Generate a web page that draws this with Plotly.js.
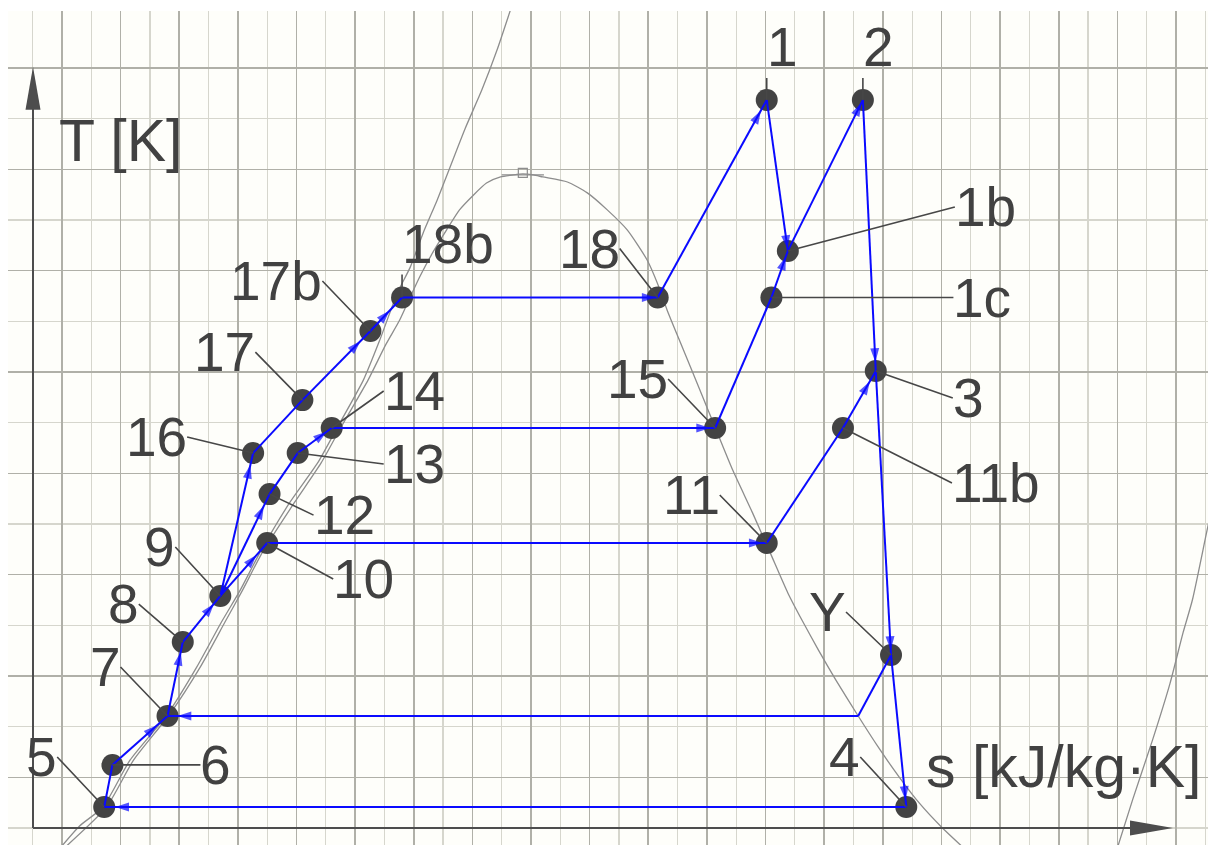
<!DOCTYPE html>
<html>
<head>
<meta charset="utf-8">
<script src="https://cdn.plot.ly/plotly-3.0.1.min.js"></script>
<style>
  html, body { margin: 0; padding: 0; background: #ffffff; }
  #chart { width: 1208px; height: 845px; }
</style>
</head>
<body>
<div id="chart"></div>
<script>
// ---- Cycle state points: entropy s and temperature T ----
const stateLabels = ['1', '2', '1b', '1c', '3', '11b', 'Y', '4', '18', '18b', '17b', '17',
                     '16', '15', '14', '13', '12', '11', '10', '9', '8', '7', '6', '5'];
const stateS = [7.01, 7.83, 7.19, 7.05, 7.94, 7.66, 8.07, 8.20, 6.08, 3.90, 3.63, 3.05,
                2.63, 6.57, 3.30, 3.01, 2.77, 7.01, 2.75, 2.35, 2.03, 1.90, 1.43, 1.36];
const stateT = [387.4, 387.4, 327.8, 309.4, 280.4, 257.9, 168.3, 108.3, 309.4, 309.4, 296.2, 268.9,
                248.0, 257.9, 257.9, 248.0, 231.8, 212.5, 212.5, 191.6, 173.4, 144.2, 124.9, 108.3];

// Unlabelled junction where the line leaving Y turns towards 7
const junctionName = 'J';
const junctionS = 7.79;
const junctionT = 144.2;

// ---- Process lines (start -> end) and whether the direction is marked ----
const segFrom  = ['5', '6', '7', '8', '9', '9', '9', '10', '11', '11b', '12', '13', '14', '15',
                  '1c', '16', '17', '17b', '18b', '18', '1', '1b', '2', '3', 'Y', '4', 'Y', 'J'];
const segTo    = ['6', '7', '8', '9', '10', '12', '16', '11', '11b', '3', '13', '14', '15', '1c',
                  '1b', '17', '17b', '18b', '18', '1', '1b', '2', '3', 'Y', '4', '5', 'J', '7'];
const segArrow = [false, true, true, true, true, true, true, true, false, true, false, true, true, false,
                  true, false, true, true, true, true, true, true, true, true, true, true, false, true];

// ---- Saturation dome (liquid branch, critical point, vapour branch) ----
const domeS = [1.02, 1.38, 1.61, 1.92, 2.18, 2.39, 2.54, 2.71, 2.98, 3.21, 3.38, 3.61, 3.76, 3.88,
               3.97, 4.05, 4.16, 4.28, 4.39, 4.51, 4.62, 4.74, 4.85, 4.93, 5.02, 5.10, 5.31, 5.48,
               5.65, 5.82, 5.99, 6.10, 6.16, 6.30, 6.44, 6.59, 6.72, 6.89, 7.04, 7.19, 7.31, 7.45,
               7.60, 7.79, 7.96, 8.14, 8.31, 8.50, 8.69];
const domeT = [92.1, 108.3, 126.8, 145.0, 163.6, 181.3, 193.9, 208.9, 228.3, 244.1, 258.3, 276.8,
               290.7, 300.5, 309.6, 317.5, 327.0, 336.1, 344.0, 349.9, 354.6, 357.0, 357.8, 358.2,
               357.8, 357.0, 355.0, 350.7, 344.0, 336.1, 324.2, 312.4, 304.5, 288.7, 272.9, 255.9,
               241.3, 224.3, 208.6, 192.8, 182.1, 170.3, 158.4, 144.2, 132.0, 120.1, 109.9, 100.4, 92.1];

// Steep line through the liquid side
const isoAS = [0.97, 1.15, 1.35, 1.58, 1.90, 2.15, 2.36, 2.52, 2.69, 2.94, 3.18, 3.35, 3.57, 3.71,
               3.86, 3.97, 4.08, 4.20, 4.31, 4.44, 4.58, 4.71, 4.83];
const isoAT = [91.3, 100.8, 108.3, 126.8, 145.0, 163.6, 181.3, 193.9, 208.9, 228.3, 244.1, 258.3,
               276.8, 292.6, 311.2, 321.4, 334.9, 347.9, 360.9, 376.3, 391.3, 407.1, 423.7];

// Line at the far right
const isoCS = [10.00, 10.13, 10.30, 10.45, 10.56, 10.64, 10.76, 10.82];
const isoCT = [92.1, 111.1, 134.7, 157.2, 177.0, 190.0, 216.4, 229.5];

// Critical point
const critS = [4.93];
const critT = [358.6];

// Axis origin and arrow tips
const axisOriginS = 0.7527;
const axisOriginT = 100;
const axisEndS = 10.475;
const axisEndT = 400.5;

// ---- Presentation ----
const pxPerS = 117.26;     // pixels per unit of s
const pxPerT = 2.5333;     // pixels per kelvin
const BLUE = '#0a0aff';
const DARK = '#434343';
const CURVE = '#8d8d8d';
const INK = '#414141';
const labelFont = { family: 'Liberation Sans, Arial, sans-serif', size: 55, color: INK };
const axisFont = { family: 'Liberation Sans, Arial, sans-serif', size: 59, color: INK };

// label offsets (pixels from the point to the end of its leader) and which side the text sits on
const labelPlacement = {
  '1':   { ax: 0,   ay: -53, side: 'left' },
  '2':   { ax: 0,   ay: -53, side: 'left' },
  '1b':  { ax: 167, ay: -44, side: 'left' },
  '1c':  { ax: 182, ay: 0,   side: 'left' },
  '3':   { ax: 77,  ay: 27,  side: 'left' },
  '11b': { ax: 109, ay: 55,  side: 'left' },
  'Y':   { ax: -45, ay: -43, side: 'right' },
  '4':   { ax: -46, ay: -50, side: 'right' },
  '18':  { ax: -38, ay: -49, side: 'right' },
  '18b': { ax: 0,   ay: -54, side: 'left' },
  '17b': { ax: -48, ay: -50, side: 'right' },
  '17':  { ax: -47, ay: -48, side: 'right' },
  '16':  { ax: -66, ay: -16, side: 'right' },
  '15':  { ax: -47, ay: -49, side: 'right' },
  '14':  { ax: 52,  ay: -37, side: 'left' },
  '13':  { ax: 86,  ay: 11,  side: 'left' },
  '12':  { ax: 44,  ay: 21,  side: 'left' },
  '11':  { ax: -47, ay: -48, side: 'right' },
  '10':  { ax: 66,  ay: 36,  side: 'left' },
  '9':   { ax: -45, ay: -49, side: 'right' },
  '8':   { ax: -44, ay: -38, side: 'right' },
  '7':   { ax: -47, ay: -49, side: 'right' },
  '6':   { ax: 88,  ay: 0,   side: 'left' },
  '5':   { ax: -47, ay: -50, side: 'right' }
};

// how far (px) each arrowhead tip stops short of its end point
const arrowStandoff = [0, 14, 10, 10, 16, 13, 12, 4, 0, 12, 0, 6, 5, 0,
                       6, 0, 14, 18, 2, 12, 2, 3, 9, 5, 7, 11, 0, 10];

function coord(name) {
  if (name === junctionName) return [junctionS, junctionT];
  const i = stateLabels.indexOf(name);
  return [stateS[i], stateT[i]];
}

const traces = [];

// thermodynamic background curves
[[isoAS, isoAT], [domeS, domeT], [isoCS, isoCT]].forEach(([xs, ys]) => {
  traces.push({
    type: 'scatter', mode: 'lines', x: xs, y: ys, hoverinfo: 'skip',
    line: { color: CURVE, width: 1.3, shape: 'spline', smoothing: 0.6 }
  });
});

// critical point marker
traces.push({
  type: 'scatter', mode: 'lines',
  x: [critS[0] - 0.18, critS[0] + 0.18], y: [critT[0] - 0.8, critT[0] - 0.8],
  line: { color: CURVE, width: 1.2 }, hoverinfo: 'skip'
});
traces.push({
  type: 'scatter', mode: 'markers', x: critS, y: critT, hoverinfo: 'skip',
  marker: { symbol: 'square-open', size: 9, color: CURVE, line: { width: 1.2, color: CURVE } }
});

// state points
traces.push({
  type: 'scatter', mode: 'markers', x: stateS, y: stateT, text: stateLabels,
  marker: { size: 22, color: DARK, line: { width: 0 } }, hoverinfo: 'text'
});

// process lines with direction arrowheads
segFrom.forEach((from, k) => {
  const a = coord(from), b = coord(segTo[k]);
  const tr = {
    type: 'scatter', x: [a[0], b[0]], y: [a[1], b[1]], hoverinfo: 'skip',
    line: { color: BLUE, width: 2, backoff: 0 }
  };
  if (segArrow[k]) {
    tr.mode = 'lines+markers';
    tr.marker = {
      symbol: 'arrow', angleref: 'previous', size: [0, 14.5], color: BLUE,
      standoff: [0, arrowStandoff[k]], line: { width: 0 }
    };
  } else {
    tr.mode = 'lines';
  }
  traces.push(tr);
});

// labels with leader lines
const annotations = stateLabels.map((lab, i) => {
  const p = labelPlacement[lab];
  return {
    x: stateS[i], y: stateT[i], xref: 'x', yref: 'y',
    text: lab, showarrow: true, arrowhead: 0, arrowwidth: 1.6, arrowcolor: '#474747',
    standoff: 0, startstandoff: 0, ax: p.ax, ay: p.ay,
    xanchor: p.side, yanchor: 'middle', borderpad: 0, borderwidth: 0,
    font: labelFont
  };
});
annotations.push({
  x: 0.974, y: 371.0, xref: 'x', yref: 'y', text: 'T [K]', showarrow: false,
  xanchor: 'left', yanchor: 'middle', borderpad: 0, borderwidth: 0, font: axisFont
});
annotations.push({
  x: 8.368, y: 124.1, xref: 'x', yref: 'y', text: 's [kJ/kg·K]', showarrow: false,
  xanchor: 'left', yanchor: 'middle', borderpad: 0, borderwidth: 0, font: axisFont
});

// axes drawn as arrows
const headLen = 43, headHalf = 7.5;
const hS = headHalf / pxPerS, hT = headHalf / pxPerT;
const shapes = [
  { type: 'line', xref: 'x', yref: 'y', x0: axisOriginS, y0: axisOriginT, x1: axisOriginS,
    y1: axisEndT - headLen / pxPerT + 2, line: { color: '#4d4d4d', width: 2 } },
  { type: 'line', xref: 'x', yref: 'y', x0: axisOriginS, y0: axisOriginT,
    x1: axisEndS - headLen / pxPerS + 2 / pxPerS, y1: axisOriginT, line: { color: '#4d4d4d', width: 2 } },
  { type: 'path', xref: 'x', yref: 'y', fillcolor: '#4d4d4d', line: { width: 0 },
    path: `M${axisOriginS},${axisEndT} L${axisOriginS - hS},${axisEndT - headLen / pxPerT} ` +
          `L${axisOriginS + hS},${axisEndT - headLen / pxPerT} Z` },
  { type: 'path', xref: 'x', yref: 'y', fillcolor: '#4d4d4d', line: { width: 0 },
    path: `M${axisEndS},${axisOriginT} L${axisEndS - headLen / pxPerS},${axisOriginT + hT} ` +
          `L${axisEndS - headLen / pxPerS},${axisOriginT - hT} Z` }
];

// minor horizontal grid: every 20 K between the major lines, up to the top major line
const minorT = [];
for (let t = 100; t <= 380; t += 40) minorT.push(t);

const layout = {
  width: 1208, height: 845, autosize: false,
  margin: { l: 8, r: 0, t: 11, b: 0, pad: 0 },
  paper_bgcolor: '#ffffff', plot_bgcolor: '#fefefa',
  showlegend: false,
  xaxis: {
    range: [0.5395, 10.7732], showticklabels: false, ticks: '', zeroline: false, showline: false,
    tick0: 1, dtick: 0.5, showgrid: true, gridcolor: '#b0b0a8', gridwidth: 1.6,
    minor: { tick0: 0.75, dtick: 0.25, showgrid: true, gridcolor: '#d6d6cd', gridwidth: 1.2 }
  },
  yaxis: {
    range: [93.29, 422.5], showticklabels: false, ticks: '', zeroline: false, showline: false,
    tick0: 120, dtick: 40, showgrid: true, gridcolor: '#b0b0a8', gridwidth: 1.6,
    minor: { tickmode: 'array', tickvals: minorT, showgrid: true, gridcolor: '#d6d6cd', gridwidth: 1.2 }
  },
  annotations: annotations,
  shapes: shapes
};

Plotly.newPlot('chart', traces, layout, { staticPlot: true, displayModeBar: false });
</script>
</body>
</html>
